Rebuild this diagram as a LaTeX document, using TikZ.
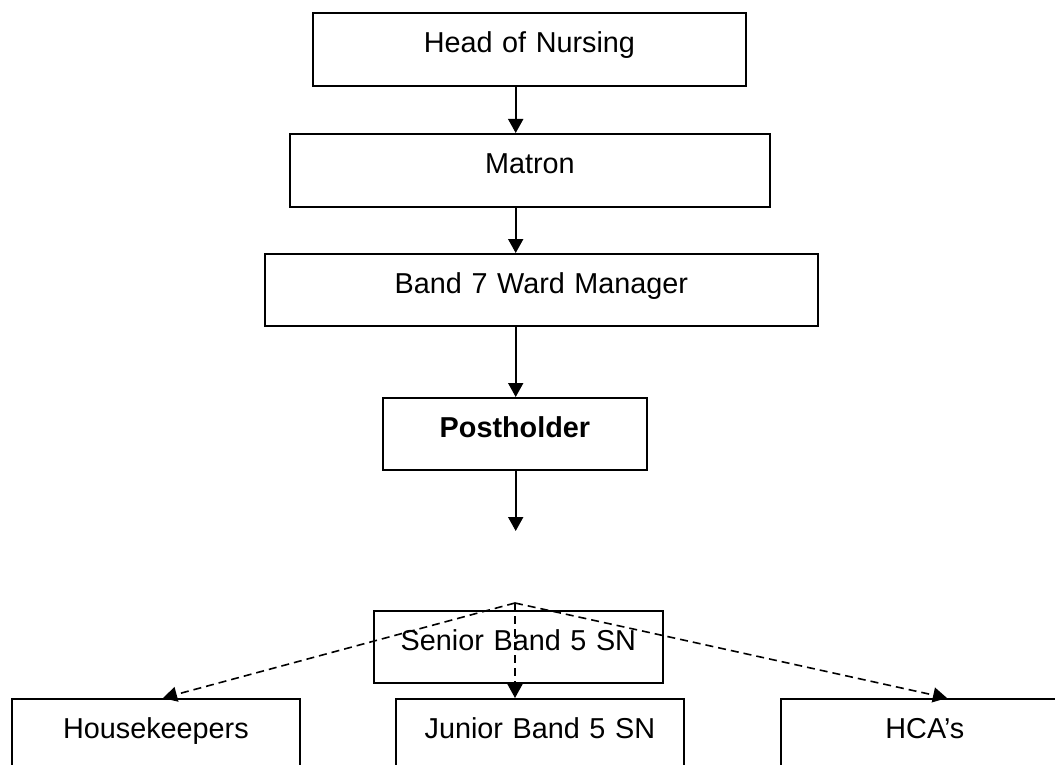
\documentclass[tikz,border=0pt]{standalone}
\usepackage{fontspec}
\setmainfont{Liberation Sans}
\usetikzlibrary{arrows.meta}
\begin{document}
\begin{tikzpicture}[x=1pt,y=-1pt,
  box/.style args={#1/#2}{draw, line width=1.8pt, inner sep=0pt, anchor=north west,
    text width=#1pt, text height=40pt, text depth={#2pt-40pt}, align=center,
    font=\fontsize{28.8}{34}\selectfont},
  arr/.style={line width=1.8pt, -{Triangle[width=15pt,length=14pt]}},
  darr/.style={line width=1.6pt, dash pattern=on 8pt off 5pt, -{Triangle[width=15pt,length=14pt]}}]
\useasboundingbox (0,0) rectangle (1055,765);
\clip (0,0) rectangle (1055,765);
\node[box=433/73] (head) at (312,12) {Head of Nursing};
\node[box=480/73] (matron) at (289,133) {Matron};
\node[box=553/72] (band7) at (264,253) {Band 7 Ward Manager};
\node[box=264/72] (post) at (382,397) {\bfseries Postholder};
\node[box=289/72] (senior) at (373,610) {Senior Band 5 SN};
\node[box=288/100] (hk) at (11,698) {Housekeepers};
\node[box=288/100] (junior) at (395,698) {Junior Band 5 SN};
\node[box=288/100] (hca) at (780,698) {HCA’s};
\coordinate (ax) at (515.7,0);
\coordinate (postend) at (515.7,531);
\coordinate (apex) at (515,603);
\coordinate (hkx) at (163,0);
\coordinate (hcax) at (947,0);
\draw[arr] (head.south -| ax) -- (matron.north -| ax);
\draw[arr] (matron.south -| ax) -- (band7.north -| ax);
\draw[arr] (band7.south -| ax) -- (post.north -| ax);
\draw[arr] (post.south -| ax) -- (postend);
\draw[darr] (apex) -- (hk.north -| hkx);
\draw[darr] (apex) -- (hca.north -| hcax);
\draw[darr] (apex) -- (junior.north -| apex);
\end{tikzpicture}
\end{document}
